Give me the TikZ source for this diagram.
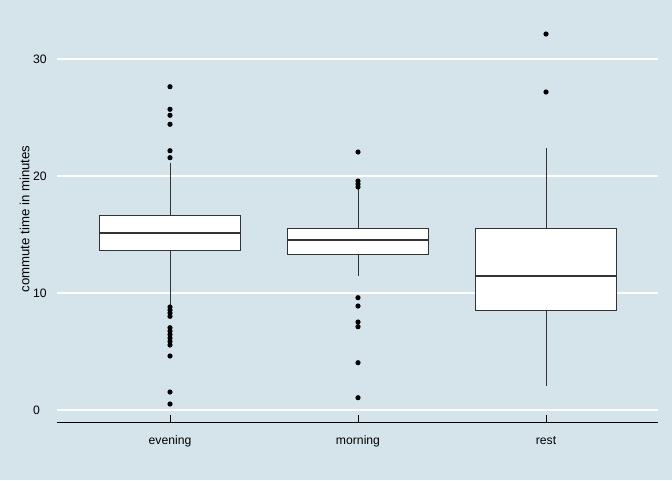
\documentclass[tikz,border=0pt]{standalone}
\usepackage{fontspec}
\setmainfont{Liberation Sans}
\definecolor{bg}{HTML}{D5E4EB}
\definecolor{boxline}{HTML}{333333}
\newcommand\drawbp[7]{% cx, halfwidth, wtop, q3, med, q1, wbot
  \draw[whisk] (#1,#3) -- (#1,#4);
  \draw[whisk] (#1,#6) -- (#1,#7);
  \draw[boxst] (#1-#2,#4) rectangle (#1+#2,#6);
  \draw[medst] (#1-#2,#5) -- (#1+#2,#5);
}
\newcommand\outl[2]{\foreach \yy in {#2} {\fill[black] (#1,\yy) circle (2.6);}}
\begin{document}
\begin{tikzpicture}[x=1pt,y=-1pt,
  gridln/.style={white,line width=1.8pt},
  axisln/.style={black,line width=0.9pt},
  whisk/.style={boxline,line width=0.8pt},
  boxst/.style={boxline,fill=white,line width=0.8pt},
  medst/.style={boxline,line width=1.7pt},
  ticklab/.style={font=\fontsize{12.2}{14}\selectfont,text=black,inner sep=0pt},
  titlelab/.style={font=\fontsize{13.2}{15}\selectfont,text=black,inner sep=0pt}]
\fill[bg] (0,0) rectangle (672,480);
\useasboundingbox (0,0) rectangle (672,480);
% grid
\foreach \gy in {59,176,293,410} \draw[gridln] (57,\gy) -- (658,\gy);
% y labels
\node[ticklab,anchor=base west] (l30) at (33,63.5) {30};
\node[ticklab,anchor=base west] (l20) at (33,180.5) {20};
\node[ticklab,anchor=base west] (l10) at (33,297.5) {10};
\node[ticklab,anchor=base west] (l0) at (33,414.5) {0};
% title
\node[titlelab,rotate=90,anchor=base] (ytitle) at (29.3,219) {commute time in minutes};
% axis
\draw[axisln] (57,422.3) -- (658,422.3);
\foreach \tx in {170,358,546} \draw[axisln] (\tx,415) -- (\tx,422.3);
\node[ticklab,anchor=base] (cev) at (170,444) {evening};
\node[ticklab,anchor=base] (cmo) at (358,444) {morning};
\node[ticklab,anchor=base] (cre) at (546,444) {rest};
% boxes
\drawbp{170}{70.4}{162.7}{215.3}{233.3}{250.7}{305}
\drawbp{358}{70.4}{189}{228.7}{239.7}{254.3}{275.7}
\drawbp{546}{70.4}{148}{228.3}{275.7}{310.3}{385.7}
% outliers
\outl{170}{86.7,109.3,115.3,124.3,150.7,157.7,307,310,313,316.3,327.7,331,334.5,338,341.5,345,356,392,404}
\outl{358}{152,181,184,187,297.7,306,322,326.7,362.7,397.7}
\outl{546}{34,92}
\end{tikzpicture}
\end{document}
